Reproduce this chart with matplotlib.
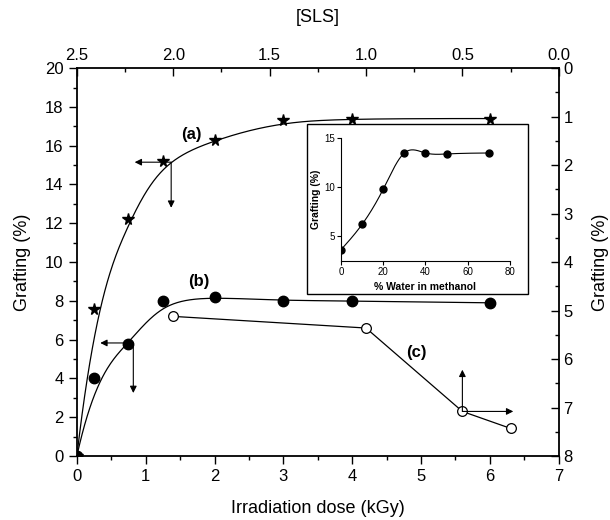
# ============================================================
# Grafting vs irradiation dose / [SLS], with inset
# ============================================================

import numpy as np
import matplotlib.pyplot as plt
from matplotlib.patches import Rectangle

plt.rcParams["font.family"] = ["Liberation Sans", "DejaVu Sans"]

# ============================================================
# Data
# ============================================================

# (a) and (b): grafting vs irradiation dose (bottom / left axes)
dose = [0, 0.25, 0.75, 1.25, 2, 3, 4, 6]
graft_a = [0, 7.6, 12.2, 15.2, 16.3, 17.3, 17.4, 17.4]
graft_b = [0, 4.0, 5.8, 8.0, 8.2, 8.0, 8.0, 7.9]

# (c): grafting vs [SLS] (top / right axes)
sls = [2.0, 1.0, 0.5, 0.25]
graft_c = [5.12, 5.36, 7.08, 7.43]

# inset: grafting vs % water in methanol
water = [0, 10, 20, 30, 40, 50, 70]
graft_w = [3.6, 6.2, 9.8, 13.5, 13.5, 13.4, 13.5]


# ============================================================
# Smoothing helpers (B-spline like Origin, natural cubic spline)
# ============================================================

def bspline(px, py, num=300):
    pts = np.column_stack([px, py])
    n = len(pts)
    k = 3
    knots = np.concatenate([np.zeros(k), np.linspace(0, 1, n - k + 1), np.ones(k)])
    t = np.linspace(0, 1 - 1e-9, num)

    def basis(i, d):
        if d == 0:
            return ((knots[i] <= t) & (t < knots[i + 1])).astype(float)
        out = np.zeros_like(t)
        den1 = knots[i + d] - knots[i]
        den2 = knots[i + d + 1] - knots[i + 1]
        if den1 > 0:
            out += (t - knots[i]) / den1 * basis(i, d - 1)
        if den2 > 0:
            out += (knots[i + d + 1] - t) / den2 * basis(i + 1, d - 1)
        return out

    B = np.array([basis(i, k) for i in range(n)])
    curve = B.T @ pts
    curve = np.vstack([curve, pts[-1]])
    return curve[:, 0], curve[:, 1]


def natural_spline(x, y, num=300):
    x = np.asarray(x, float)
    y = np.asarray(y, float)
    n = len(x)
    h = np.diff(x)
    A = np.zeros((n, n))
    r = np.zeros(n)
    A[0, 0] = A[-1, -1] = 1
    for i in range(1, n - 1):
        A[i, i - 1] = h[i - 1]
        A[i, i] = 2 * (h[i - 1] + h[i])
        A[i, i + 1] = h[i]
        r[i] = 6 * ((y[i + 1] - y[i]) / h[i] - (y[i] - y[i - 1]) / h[i - 1])
    M = np.linalg.solve(A, r)
    xs = np.linspace(x[0], x[-1], num)
    j = np.clip(np.searchsorted(x, xs) - 1, 0, n - 2)
    dx0 = xs - x[j]
    dx1 = x[j + 1] - xs
    hj = h[j]
    ys = (M[j] * dx1 ** 3 / (6 * hj) + M[j + 1] * dx0 ** 3 / (6 * hj)
          + (y[j] / hj - M[j] * hj / 6) * dx1 + (y[j + 1] / hj - M[j + 1] * hj / 6) * dx0)
    return xs, ys


# ============================================================
# Figure and axes
# ============================================================

fig = plt.figure(figsize=(6.1, 5.2), dpi=100)
rect = [0.126, 0.123, 0.790, 0.746]

ax = fig.add_axes(rect)
ax2 = fig.add_axes(rect, facecolor="none")

arrow = dict(arrowstyle="-|>", color="k", lw=0.8, shrinkA=0, shrinkB=0,
             mutation_scale=10)

# (a) stars
xa, ya = bspline(dose, graft_a)
ax.plot(xa, ya, color="k", lw=0.9)
ax.plot(dose, graft_a, linestyle="none", marker="*", markersize=8.5, color="k")

# (b) filled circles
xb, yb = bspline(dose, graft_b)
ax.plot(xb, yb, color="k", lw=0.9)
ax.plot(dose, graft_b, linestyle="none", marker="o", markersize=7.5, color="k")

# arrows for (a) and (b)
ax.annotate("", xy=(0.84, 15.15), xytext=(1.37, 15.15), arrowprops=arrow)
ax.annotate("", xy=(1.37, 12.8), xytext=(1.37, 15.15), arrowprops=arrow)
ax.annotate("", xy=(0.34, 5.83), xytext=(0.82, 5.83), arrowprops=arrow)
ax.annotate("", xy=(0.82, 3.25), xytext=(0.82, 5.83), arrowprops=arrow)

ax.text(1.66, 16.6, "(a)", fontsize=12, fontweight="bold", ha="center", va="center")
ax.text(1.77, 9.0, "(b)", fontsize=12, fontweight="bold", ha="center", va="center")
ax.text(4.93, 5.35, "(c)", fontsize=12, fontweight="bold", ha="center", va="center")

ax.set_xlim(0, 7)
ax.set_ylim(0, 20)
ax.set_xticks(np.arange(0, 8, 1))
ax.set_xticks(np.arange(0, 7, 0.5), minor=True)
ax.set_yticks(np.arange(0, 21, 2))
ax.set_yticks(np.arange(0, 20, 1), minor=True)
ax.tick_params(which="both", direction="out", labelsize=12, width=1.0)
ax.tick_params(which="major", length=6)
ax.tick_params(which="minor", length=3)
ax.set_xlabel("Irradiation dose (kGy)", fontsize=13, labelpad=11)
ax.set_ylabel("Grafting (%)", fontsize=13, labelpad=10)
for s in ax.spines.values():
    s.set_linewidth(1.3)

# (c) open circles on [SLS] / right axes
ax2.plot(sls, graft_c, color="k", lw=0.9, marker="o", markersize=7,
         markerfacecolor="white", markeredgecolor="k", markeredgewidth=0.9)
ax2.annotate("", xy=(0.5, 6.22), xytext=(0.5, 7.08), arrowprops=arrow)
ax2.annotate("", xy=(0.236, 7.08), xytext=(0.5, 7.08), arrowprops=arrow)

ax2.set_xlim(2.5, 0)
ax2.set_ylim(8, 0)
ax2.xaxis.tick_top()
ax2.yaxis.tick_right()
ax2.xaxis.set_label_position("top")
ax2.yaxis.set_label_position("right")
ax2.set_xticks(np.arange(0, 2.6, 0.5))
ax2.set_xticks(np.arange(0, 2.5, 0.25), minor=True)
ax2.set_yticks(np.arange(0, 9, 1))
ax2.set_yticks(np.arange(0.5, 8, 1), minor=True)
ax2.set_xticklabels(["0.0", "0.5", "1.0", "1.5", "2.0", "2.5"])
ax2.tick_params(which="both", direction="in", labelsize=12, width=1.0)
ax2.tick_params(which="major", length=6)
ax2.tick_params(which="minor", length=3)
ax2.set_xlabel("[SLS]", fontsize=13, labelpad=19)
ax2.set_ylabel("Grafting (%)", fontsize=13, labelpad=14)
for s in ax2.spines.values():
    s.set_visible(False)

# ============================================================
# Inset
# ============================================================

fig.patches.append(Rectangle((0.503, 0.435), 0.362, 0.327, transform=fig.transFigure,
                             facecolor="white", edgecolor="k", lw=1.0, zorder=5))

axi = fig.add_axes([0.559, 0.499, 0.277, 0.235], facecolor="none", zorder=6)
xw, yw = natural_spline(water, graft_w)
axi.plot(xw, yw, color="k", lw=0.8)
axi.plot(water, graft_w, linestyle="none", marker="o", markersize=5, color="k")
axi.set_xlim(0, 80)
axi.set_ylim(2.5, 15)
axi.set_xticks([0, 20, 40, 60, 80])
axi.set_yticks([5, 10, 15])
axi.spines["top"].set_visible(False)
axi.spines["right"].set_visible(False)
axi.tick_params(direction="out", labelsize=7, length=3, width=0.8, pad=1.5)
axi.set_xlabel("% Water in methanol", fontsize=7.5, fontweight="bold", labelpad=4)
axi.set_ylabel("Grafting (%)", fontsize=7.5, fontweight="bold", labelpad=2)

plt.savefig("out.png", dpi=100)
